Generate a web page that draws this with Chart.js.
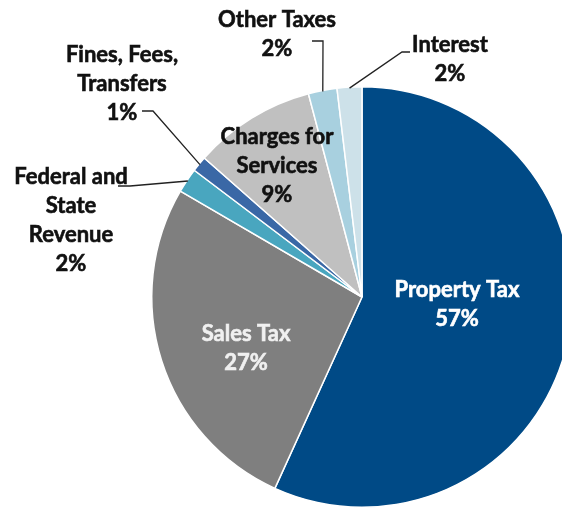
<!DOCTYPE html>
<html>
<head>
<meta charset="utf-8">
<style>
html,body{margin:0;padding:0;background:#fff;overflow:hidden;width:562px;height:508px;}
#wrap{position:absolute;left:0;top:0;width:724px;height:508px;}
</style>
<script src="https://cdn.jsdelivr.net/npm/chart.js@4.4.1/dist/chart.umd.min.js"></script>
</head>
<body>
<div id="wrap"><canvas id="c" width="724" height="508"></canvas></div>
<script>
// ---- data ----
const categories = ["Property Tax", "Sales Tax", "Federal and State Revenue", "Fines, Fees, Transfers", "Charges for Services", "Other Taxes", "Interest"];
const labelLines = [["Property Tax"], ["Sales Tax"], ["Federal and", "State", "Revenue"], ["Fines, Fees,", "Transfers"], ["Charges for", "Services"], ["Other Taxes"], ["Interest"]];
const shares = [56.8, 26.6, 1.9, 1.2, 9.4, 2.2, 1.9];

// ---- styles / layout ----
const colors = ["#004a86", "#7f7f7f", "#49a6bf", "#3a68a6", "#c0c0c0", "#a8d0df", "#cde1e9"];
const textColors = ["#ffffff", "#f0f0f0", "#111111", "#111111", "#111111", "#111111", "#111111"];
// label anchor (center of first line) relative to pie center; leader: polyline points relative to pie center, ends at arc edge
const labelLayout = [
  {dx: 95, dy: -7, leader: null},
  {dx: -116, dy: 37, leader: null},
  {dx: -291, dy: -120, leader: [[-244, -111], [-232, -111]]},
  {dx: -240, dy: -242, leader: [[-220, -186], [-209, -186]]},
  {dx: -85, dy: -160, leader: null},
  {dx: -85, dy: -277, leader: [[-50, -256], [-39, -256]]},
  {dx: 88, dy: -252, leader: [[48, -245], [40, -245]]}
];
const FONT = 'bold 22px Lato, "Open Sans", sans-serif';
const LINE_H = 29;

const labelPlugin = {
  id: 'sliceLabels',
  afterDatasetsDraw(chart) {
    const ctx = chart.ctx;
    const meta = chart.getDatasetMeta(0);
    const total = shares.reduce((a, b) => a + b, 0);
    ctx.save();
    ctx.font = FONT;
    ctx.textAlign = 'center';
    ctx.textBaseline = 'middle';
    meta.data.forEach((arc, i) => {
      const cx = arc.x, cy = arc.y;
      const L = labelLayout[i];
      const lines = labelLines[i].concat([Math.round(shares[i] / total * 100) + '%']);
      if (L.leader) {
        const mid = (arc.startAngle + arc.endAngle) / 2;
        const ex = cx + Math.cos(mid) * (arc.outerRadius - 1);
        const ey = cy + Math.sin(mid) * (arc.outerRadius - 1);
        ctx.beginPath();
        ctx.strokeStyle = '#222';
        ctx.lineWidth = 1.3;
        ctx.moveTo(cx + L.leader[0][0], cy + L.leader[0][1]);
        for (let k = 1; k < L.leader.length; k++) ctx.lineTo(cx + L.leader[k][0], cy + L.leader[k][1]);
        ctx.lineTo(ex, ey);
        ctx.stroke();
      }
      ctx.fillStyle = textColors[i];
      ctx.strokeStyle = textColors[i];
      ctx.lineWidth = 0.6;
      lines.forEach((t, j) => {
        ctx.fillText(t, cx + L.dx, cy + L.dy + j * LINE_H);
        ctx.strokeText(t, cx + L.dx, cy + L.dy + j * LINE_H);
      });
    });
    ctx.restore();
  }
};

new Chart(document.getElementById('c'), {
  type: 'pie',
  data: {
    labels: categories,
    datasets: [{
      data: shares,
      backgroundColor: colors,
      borderColor: '#ffffff',
      borderWidth: 1.5
    }]
  },
  options: {
    responsive: false,
    animation: false,
    rotation: 0,
    layout: {padding: {left: 151, right: 151, top: 86, bottom: 0}},
    plugins: {legend: {display: false}, tooltip: {enabled: false}}
  },
  plugins: [labelPlugin]
});
</script>
</body>
</html>
